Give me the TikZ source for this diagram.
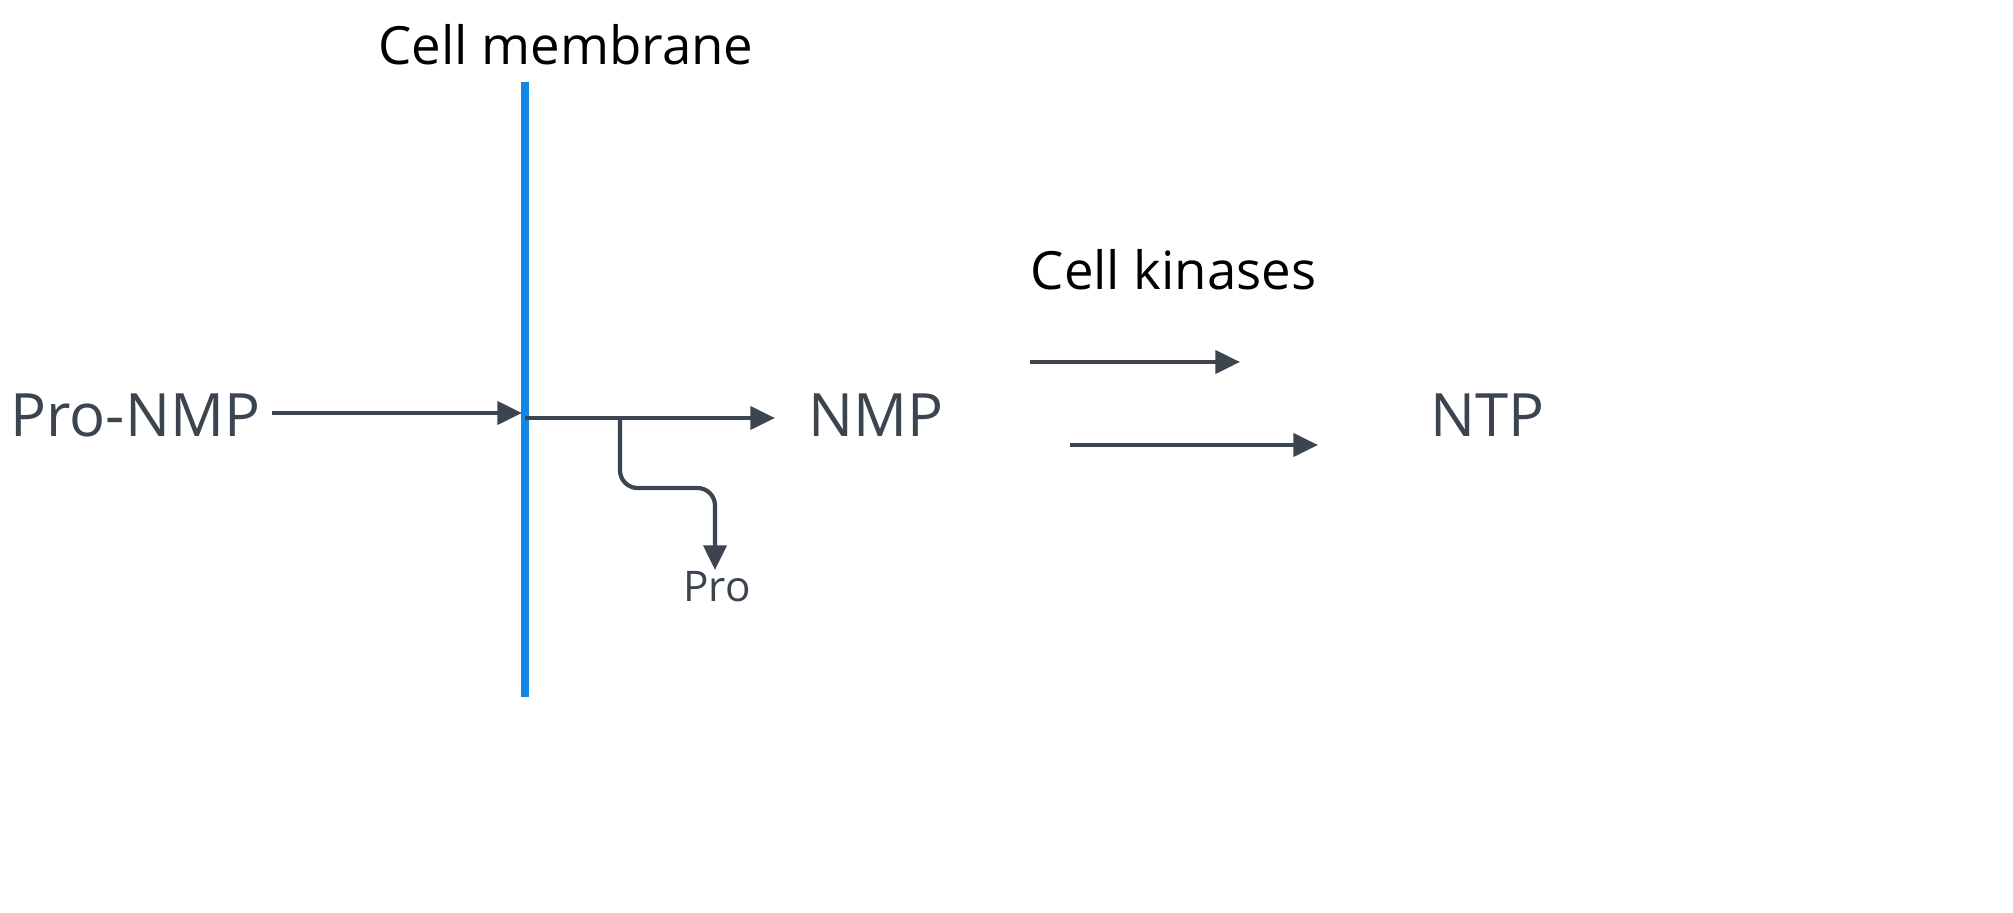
\documentclass[tikz,border=0pt]{standalone}
\usepackage{fontspec}
\setmainfont{Open Sans}
\usetikzlibrary{arrows.meta}
\begin{document}
\begin{tikzpicture}[x=0.01cm,y=-0.01cm,
    arr/.style={draw=slate,line width=1.2pt,-{Triangle[length=7pt,width=6.5pt]}},
    big/.style={text=slate,font=\fontsize{17}{20}\selectfont,inner sep=0pt},
    lab/.style={text=black,font=\fontsize{15}{18}\selectfont,inner sep=0pt}]

    \definecolor{slate}{RGB}{60,68,80}
    \definecolor{membrane}{RGB}{20,135,230}

    \useasboundingbox (0,0) rectangle (2013,913);

    % membrane
    \coordinate (mtop) at (525,82);
    \coordinate (mbot) at (525,697);
    \draw[membrane,line width=2pt] (mtop) -- (mbot);
    \node[lab] (cellmem) at (566,45) {Cell membrane};

    % species
    \node[big,anchor=west] (pronmp) at (10,415) {Pro-NMP};
    \node[big,anchor=west] (nmp) at (808,415) {NMP};
    \node[big,anchor=west] (ntp) at (1430,415) {NTP};
    \node[text=slate,font=\fontsize{12}{14}\selectfont,inner sep=0pt] (pro) at (717,587) {Pro};
    \node[lab,anchor=west] (kinases) at (1030,270) {Cell kinases};

    % arrows
    \coordinate (min) at (522,413);
    \coordinate (mout) at (525,418);
    \coordinate (split) at (620,418);
    \draw[arr] (272,413) -- (min);
    \draw[arr] (mout) -- (775,418);
    \draw[arr,rounded corners=5pt] (split) -- (620,488) -- (715,488) -- (715,570);

    \coordinate (k1a) at (1030,362);
    \coordinate (k1b) at (1240,362);
    \coordinate (k2a) at (1070,445);
    \coordinate (k2b) at (1318,445);
    \draw[arr] (k1a) -- (k1b);
    \draw[arr] (k2a) -- (k2b);

\end{tikzpicture}
\end{document}
